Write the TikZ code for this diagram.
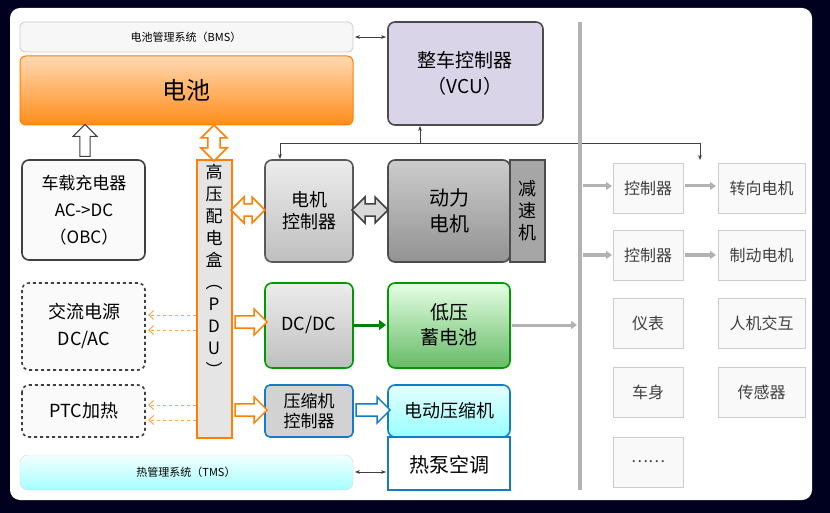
\documentclass[tikz,border=0pt]{standalone}
\usepackage{fontspec}
\setmainfont{Noto Sans CJK SC}
\usetikzlibrary{arrows.meta,shapes.arrows}
\definecolor{lav}{RGB}{218,212,232}
\begin{document}
\begin{tikzpicture}[x=1pt,y=-1pt,
 box/.style={draw=#1,line width=1.6pt,rounded corners=7pt,inner sep=0pt},
 rb/.style={draw=gray!40,fill=gray!5,line width=0.8pt,inner sep=0pt},
 t/.style={font=\fontsize{18}{22}\selectfont,align=center},
 gar/.style={-{Triangle[length=6pt,width=8pt]},gray!60,line width=3pt},
 thin/.style={{Stealth[length=5pt]}-{Stealth[length=5pt]},line width=0.7pt,black!75}]
\useasboundingbox (0,0) rectangle (830,513);
\fill[black!88!blue] (0,0) rectangle (830,513);
\fill[white,rounded corners=10pt] (10,8) rectangle (812,500);
% BMS and battery
\draw[rb,rounded corners=5pt,fill=gray!6] (20,22) rectangle (353,52);
\node (bms) at (186,37) {\fontsize{11}{13}\selectfont 电池管理系统（BMS）};
\shade[top color=orange!30,bottom color=orange!90,draw=orange,rounded corners=6pt,line width=1pt] (20,56) rectangle (353,125);
\node[font=\fontsize{24}{28}\selectfont] (bat) at (186,90) {电池};
% VCU
\draw[box=black!70,fill=lav] (388,22) rectangle (543,125);
\node[t,font=\fontsize{19}{26}\selectfont] (vcu) at (465,73) {整车控制器\\（VCU）};
\draw[thin] (355,37) -- (386,37);
% OBC
\draw[box=black!75,fill=gray!4] (22,160) rectangle (145,260);
\node[t,font=\fontsize{17}{27}\selectfont] (obc) at (84,210) {车载充电器\\AC->DC\\（OBC）};
\node[single arrow,draw=black!75,fill=white,line width=1pt,minimum height=32pt,minimum width=24pt,single arrow head extend=2pt,inner sep=1pt,rotate=90] (oa) at (85,143) {};
% PDU
\draw[draw=orange,fill=gray!20,line width=1.2pt] (197,160) rectangle (232,438);
\node[t,font=\fontsize{17}{22}\selectfont] (pdu) at (214,270) {高\\压\\配\\电\\盒\\︵\\P\\D\\U\\︶};
\node[double arrow,draw=orange,fill=white,line width=1.5pt,minimum height=36pt,minimum width=26pt,double arrow head extend=3pt,inner sep=2pt,rotate=90] (pa) at (214,143) {};
% motor controller, motor
\shade[top color=gray!15,bottom color=gray!50,draw=black!65,rounded corners=7pt,line width=1.6pt] (265,160) rectangle (353,262);
\node[t] (mc) at (309,211) {电机\\控制器};
\shade[top color=gray!40,bottom color=gray!85,draw=black!70,rounded corners=7pt,line width=1.6pt] (388,160) rectangle (510,262);
\node[t,font=\fontsize{20}{26}\selectfont] (mot) at (449,211) {动力\\电机};
\draw[fill=gray!70,draw=black!70,line width=1.2pt] (510,160) rectangle (545,262);
\node[t,font=\fontsize{18}{22}\selectfont] (red) at (527,211) {减\\速\\机};
\node[double arrow,draw=orange,fill=white,line width=1.5pt,minimum height=34pt,minimum width=26pt,double arrow head extend=3pt,inner sep=2pt] (ma) at (248,210) {};
\node[double arrow,draw=black!75,fill=gray!30,line width=1.5pt,minimum height=36pt,minimum width=26pt,double arrow head extend=3pt,inner sep=2pt] (mb) at (370,210) {};
% VCU signal lines
\coordinate (j1) at (420,143); \coordinate (j0) at (280,143); \coordinate (j2) at (700,143);
\coordinate (j3) at (700,160);
\draw[line width=0.7pt,black!75] (j0) -- (j2);
\draw[-{Stealth[length=5pt]},line width=0.7pt,black!75] (j1) -- (420,126);
\draw[-{Stealth[length=5pt]},line width=0.7pt,black!75] (j0) -- (280,159);
\draw[-{Stealth[length=5pt]},line width=0.7pt,black!75] (j2) -- (j3);
% bus
\draw[gray!60,line width=4pt] (580,22) -- (580,490);
% AC source, PTC
\draw[box=black!75,dashed,fill=gray!4] (22,283) rectangle (145,370);
\node[t,font=\fontsize{18}{27}\selectfont] (ac) at (84,326) {交流电源\\DC/AC};
\draw[box=black!75,dashed,fill=gray!4] (22,385) rectangle (145,437);
\node[t] (ptc) at (84,411) {PTC加热};
\foreach \y in {315,330,405,420}{
 \draw[orange!70,dashed,line width=1pt,-{Straight Barb[length=5pt,width=9pt]}] (196,\y) -- (148,\y);}
% DC/DC, LV battery
\shade[top color=gray!15,bottom color=gray!50,draw=green!60!black,rounded corners=7pt,line width=1.6pt] (265,283) rectangle (353,368);
\node[t] (dc) at (309,325) {DC/DC};
\shade[top color=green!10,bottom color=green!55!black!60,draw=green!60!black,rounded corners=7pt,line width=1.6pt] (388,283) rectangle (510,368);
\node[t,font=\fontsize{19}{25}\selectfont] (lv) at (449,325) {低压\\蓄电池};
\node[single arrow,draw=orange,fill=white,line width=1.5pt,minimum height=32pt,minimum width=26pt,single arrow head extend=3pt,inner sep=2pt] (da) at (248,322) {};
\draw[-{Triangle[length=7pt,width=10pt]},green!50!black,line width=3pt] (dc) ++(44,0) -- (386,325);
\draw[gar] (512,325) -- (577,325);
% compressor
\draw[box=cyan!60!blue,fill=gray!35,rounded corners=5pt] (265,385) rectangle (353,437);
\node[t,font=\fontsize{17}{20}\selectfont] (cc) at (309,411) {压缩机\\控制器};
\shade[top color=cyan!10,bottom color=cyan!40,draw=cyan!60!blue,rounded corners=7pt,line width=1.6pt] (388,385) rectangle (510,437);
\node[t] (ec) at (449,411) {电动压缩机};
\node[single arrow,draw=orange,fill=white,line width=1.5pt,minimum height=32pt,minimum width=26pt,single arrow head extend=3pt,inner sep=2pt] (ca) at (248,410) {};
\node[single arrow,draw=cyan!60!blue,fill=white,line width=1.5pt,minimum height=34pt,minimum width=26pt,single arrow head extend=3pt,inner sep=2pt] (cb) at (370,410) {};
\draw[draw=cyan!60!blue,fill=white,line width=1.4pt] (388,437) rectangle (510,490);
\node[t,font=\fontsize{20}{24}\selectfont] (hp) at (449,465) {热泵空调};
% TMS
\shade[top color=cyan!5,bottom color=cyan!35,draw=gray!30,rounded corners=8pt] (20,455) rectangle (353,490);
\node (tms) at (186,472) {\fontsize{11}{13}\selectfont 热管理系统（TMS）};
\draw[thin] (355,472) -- (386,472);
% right boxes
\foreach \x/\y/\s/\n in {613/163/控制器/r1,718/163/转向电机/r2,613/230/控制器/r3,718/230/制动电机/r4,613/298/仪表/r5,718/298/人机交互/r6,613/367/车身/r7,718/367/传感器/r8,613/437/……/r9}{
 \ifnum\x=613 \def\w{70}\else\def\w{87}\fi
 \draw[rb] (\x,\y) rectangle ++(\w,50);
 \node[font=\fontsize{16}{19}\selectfont,black!75] (\n) at (\x+\w/2,\y+25) {\s};}
\draw[gar] (583,186) -- (612,186);
\draw[gar] (685,186) -- (716,186);
\draw[gar] (583,255) -- (612,255);
\draw[gar] (685,255) -- (716,255);
\end{tikzpicture}
\end{document}
